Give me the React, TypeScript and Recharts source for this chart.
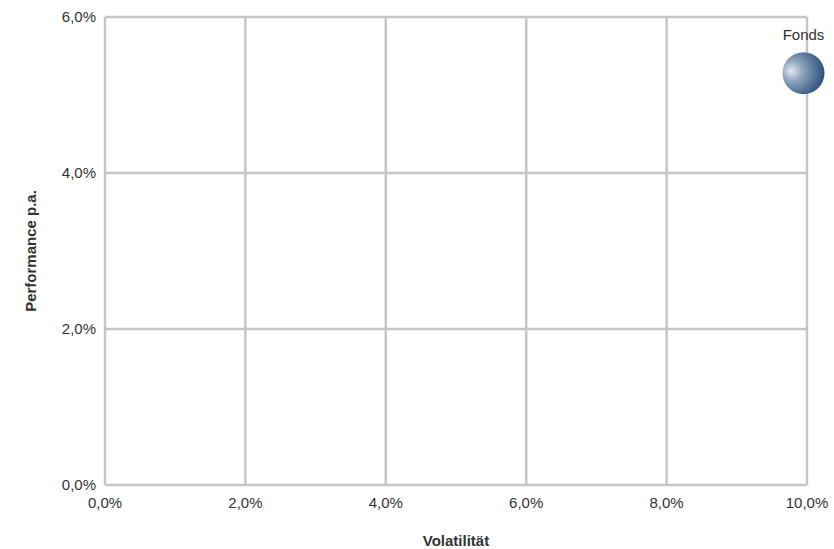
import React from "react";
import {
  CartesianGrid,
  Label,
  LabelList,
  Scatter,
  ScatterChart,
  XAxis,
  YAxis,
} from "recharts";

const names = ["Fonds"];
const volatility = [9.95];
const performance = [5.28];
const xTicks = [0, 2, 4, 6, 8, 10];
const yTicks = [0, 2, 4, 6];

const data = names.map((name, i) => ({
  name,
  vol: volatility[i],
  perf: performance[i],
}));

const fmt = (v: number) => `${v.toFixed(1).replace(".", ",")}%`;

const FONT = '"Liberation Sans", Arial, sans-serif';
const TEXT = "#333333";

function Bubble(props: any) {
  const { cx, cy } = props;
  if (cx == null || cy == null) return null;
  return <circle cx={cx} cy={cy} r={21} fill="url(#bubbleGrad)" />;
}

export default function App() {
  return (
    <div style={{ position: "absolute", left: 0, top: 0, fontFamily: FONT }}>
      <ScatterChart
        width={834}
        height={549}
        margin={{ top: 17, right: 27, left: 45, bottom: 34 }}
      >
        <defs>
          <radialGradient id="bubbleGrad" cx="0.3" cy="0.45" r="0.75" fx="0.2" fy="0.45">
            <stop offset="0%" stopColor="#e4e9ef" />
            <stop offset="35%" stopColor="#8aa1bb" />
            <stop offset="75%" stopColor="#4a6a90" />
            <stop offset="100%" stopColor="#284a72" />
          </radialGradient>
        </defs>
        <CartesianGrid stroke="#c6c6c6" strokeWidth={2.5} />
        <XAxis
          type="number"
          dataKey="vol"
          domain={[0, 10]}
          ticks={xTicks}
          tickFormatter={fmt}
          axisLine={false}
          tickLine={false}
          tickMargin={6}
          height={30}
          tick={{ fill: TEXT, fontSize: 15, fontFamily: FONT }}
        >
          <Label
            value="Volatilität"
            position="bottom"
            offset={20}
            style={{ fill: TEXT, fontSize: 15, fontWeight: "bold", fontFamily: FONT }}
          />
        </XAxis>
        <YAxis
          type="number"
          dataKey="perf"
          domain={[0, 6]}
          ticks={yTicks}
          tickFormatter={fmt}
          axisLine={false}
          tickLine={false}
          tickMargin={3}
          width={60}
          tick={{ fill: TEXT, fontSize: 15, fontFamily: FONT }}
        >
          <Label
            value="Performance p.a."
            angle={-90}
            position="left"
            offset={14}
            style={{
              fill: TEXT,
              fontSize: 15,
              fontWeight: "bold",
              fontFamily: FONT,
              textAnchor: "middle",
            }}
          />
        </YAxis>
        <Scatter data={data} shape={Bubble} isAnimationActive={false}>
          <LabelList
            dataKey="name"
            position="top"
            offset={29}
            style={{ fill: TEXT, fontSize: 15, fontFamily: FONT }}
          />
        </Scatter>
      </ScatterChart>
    </div>
  );
}
